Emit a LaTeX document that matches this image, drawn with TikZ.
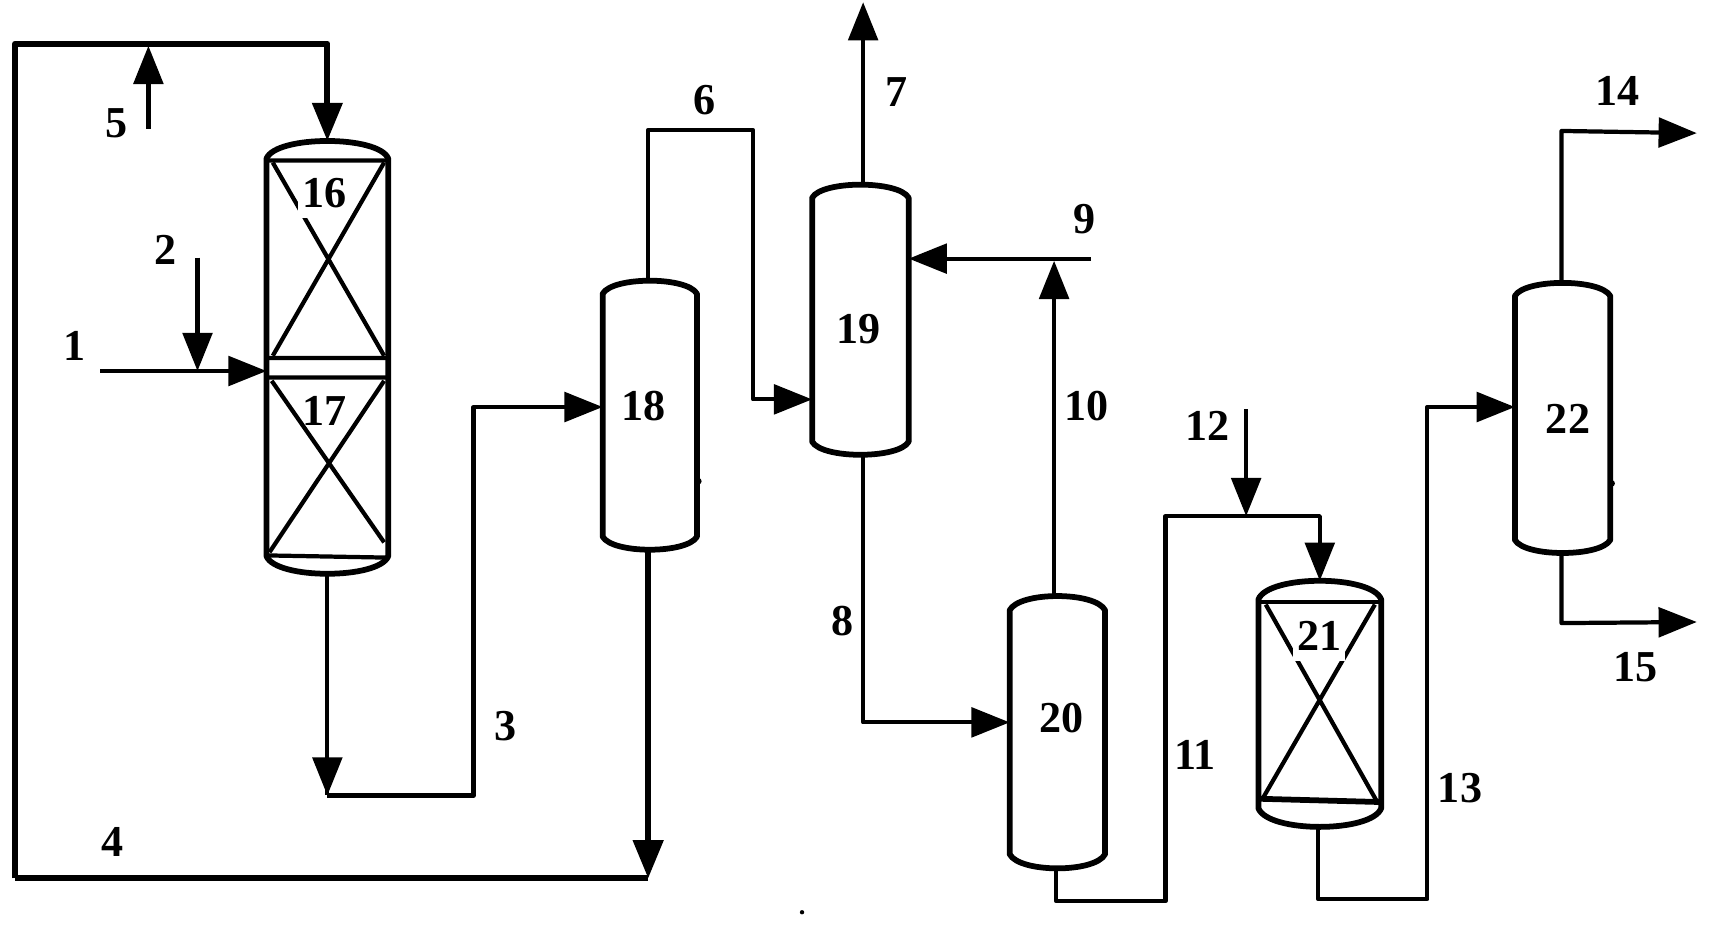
\documentclass[tikz,border=0pt]{standalone}
\usepackage{fontspec}
\setmainfont{Liberation Serif}
\usetikzlibrary{arrows.meta, calc}
\newcommand{\vesselwall}[2]{%
    \draw[wall] ($(#1.north west)+(0,#2)$) .. controls ($(#1.north west)+(9,-#2/3)$) and ($(#1.north east)+(-9,-#2/3)$) .. ($(#1.north east)+(0,#2)$)
        -- ($(#1.south east)+(0,-#2)$) .. controls ($(#1.south east)+(-9,#2/3)$) and ($(#1.south west)+(9,#2/3)$) .. ($(#1.south west)+(0,-#2)$) -- cycle;
}

\begin{document}
\begin{tikzpicture}[x=0.01cm, y=-0.01cm, font=\fontsize{11.5}{13}\selectfont\bfseries]
    \tikzset{
        vessel/.style={rectangle, inner sep=0pt, minimum width=#1},
        wall/.style={line width=1.5pt, line join=round},
        bed/.style={line width=1.1pt},
        pipe/.style={line width=1.1pt, line join=round},
        main/.style={line width=1.6pt, line join=round},
        arrow/.style={-{Triangle[length=0.35cm, width=0.27cm]}},
        tag/.style={inner xsep=1pt, inner ysep=0.09cm, fill=white},
        num/.style={inner sep=0pt}
    }
    \useasboundingbox (0,0) rectangle (1568,857);
    \node[vessel=1.10cm, minimum height=3.95cm] (r16) at (300,327.5) {};
    \node[vessel=0.85cm, minimum height=2.45cm] (c18) at (595.5,380.5) {};
    \node[vessel=0.87cm, minimum height=2.46cm] (c19) at (788.5,293) {};
    \node[vessel=0.86cm, minimum height=2.48cm] (c20) at (969,671) {};
    \node[vessel=1.11cm, minimum height=2.24cm] (r21) at (1209.5,645) {};
    \node[vessel=0.86cm, minimum height=2.46cm] (c22) at (1432,383) {};
    \vesselwall{r16}{16}
    \vesselwall{c18}{12}
    \vesselwall{c19}{12}
    \vesselwall{c20}{13}
    \vesselwall{r21}{17}
    \vesselwall{c22}{12}
    \draw[bed] (245,147) -- (355,147) (245,328) -- (355,328) (245,346) -- (355,346) (245,509) -- (355,511);
    \draw[bed] (250,149) -- (352,326) (352,149) -- (250,326);
    \draw[bed] (249,349) -- (352,497) (352,349) -- (247,506);
    \draw[bed] (1154,552) -- (1265,552);
    \draw[line width=1.5pt] (1154,732) -- (1265,735);
    \draw[bed] (1160,554) -- (1261,733) (1260,554) -- (1157,732);
    \node[tag] (n16) at (297,177) {16};
    \node[num] (n17) at (297,377) {17};
    \node[tag] (n21) at (1209,583) {21};
    \node[num] (n18) at (590,372) {18};
    \node[num] (n19) at (787,302) {19};
    \node[num] (n20) at (973,658) {20};
    \node[num] (n22) at (1437,384) {22};
    \node[num] (s1)  at (68,317)   {1};
    \node[num] (s2)  at (152,229)  {2};
    \node[num] (s3)  at (463,665)  {3};
    \node[num] (s4)  at (103,772)  {4};
    \node[num] (s5)  at (107,113)  {5};
    \node[num] (s6)  at (646,92)   {6};
    \node[num] (s7)  at (822,84)   {7};
    \node[num] (s8)  at (772,569)  {8};
    \node[num] (s9)  at (994,201)  {9};
    \node[num] (s10) at (996,372)  {10};
    \node[num] (s11) at (1095,692) {11};
    \node[num] (s12) at (1107,390) {12};
    \node[num] (s13) at (1338,722) {13};
    \node[num] (s14) at (1482,83)  {14};
    \node[num] (s15) at (1499,611) {15};
    \coordinate (top) at (14,40);
    \coordinate (low) at (14,805);
    \coordinate (j1) at (92,340);
    \coordinate (j2) at (181,236);
    \coordinate (j2b) at (181,340);
    \coordinate (j3) at (300,729);
    \coordinate (j3b) at (434,373);
    \coordinate (j4) at (594,805);
    \coordinate (j5) at (136,118);
    \coordinate (j5b) at (136,42);
    \coordinate (j6) at (690,119);
    \coordinate (j6b) at (690,366);
    \coordinate (j7) at (791,2);
    \coordinate (j8) at (791,662);
    \coordinate (j9) at (1000,237);
    \coordinate (j9b) at (966,239);
    \coordinate (j11) at (968,826);
    \coordinate (j11b) at (1068,473);
    \coordinate (j12) at (1142,375);
    \coordinate (j12b) at (1142,473);
    \coordinate (j13) at (1208,824);
    \coordinate (j13b) at (1308,373);
    \coordinate (j14) at (1431,120);
    \coordinate (j14b) at (1555,122);
    \coordinate (j15) at (1431,571);
    \coordinate (j15b) at (1555,570);
    \draw[main, arrow] (low) -- (top) -| (r16.north);
    \draw[main] (low) -- (j4);
    \draw[pipe, arrow] (j5) -- (j5b);
    \draw[pipe, arrow] (j2) -- (j2b);
    \draw[pipe, arrow] (j1) -- (r16.west |- j1);
    \draw[pipe] (r16.south) -- (j3);
    \draw[pipe, arrow] ($(j3)+(0,-38)$) -- (j3);
    \draw[pipe, arrow] (j3) -| (j3b) -- (c18.west |- j3b);
    \draw[main, arrow] (j4 |- c18.south) -- (j4);
    \draw[pipe, arrow] (c18.north -| j4) |- (j6) -- (j6b) -- (c19.west |- j6b);
    \draw[pipe, arrow] (j7 |- c19.north) -- (j7);
    \draw[pipe, arrow] (j9) -- (c19.east |- j9);
    \draw[pipe, arrow] (j9b |- c20.north) -- (j9b);
    \draw[pipe, arrow] (j8 |- c19.south) -- (j8) -- (c20.west |- j8);
    \draw[pipe, arrow] (j11 |- c20.south) -- (j11) -| (j11b) -| (r21.north);
    \draw[pipe, arrow] (j12) -- (j12b);
    \draw[pipe, arrow] (j13 |- r21.south) -- (j13) -| (j13b) -- (c22.west |- j13b);
    \draw[pipe, arrow] (c22.north -| j14) -- (j14) -- (j14b);
    \draw[pipe, arrow] (c22.south -| j15) -- (j15) -- (j15b);
    \fill (640,441) circle (3);
    \fill (1477,443) circle (3);
    \fill (735,836) circle (2);
\end{tikzpicture}
\end{document}
